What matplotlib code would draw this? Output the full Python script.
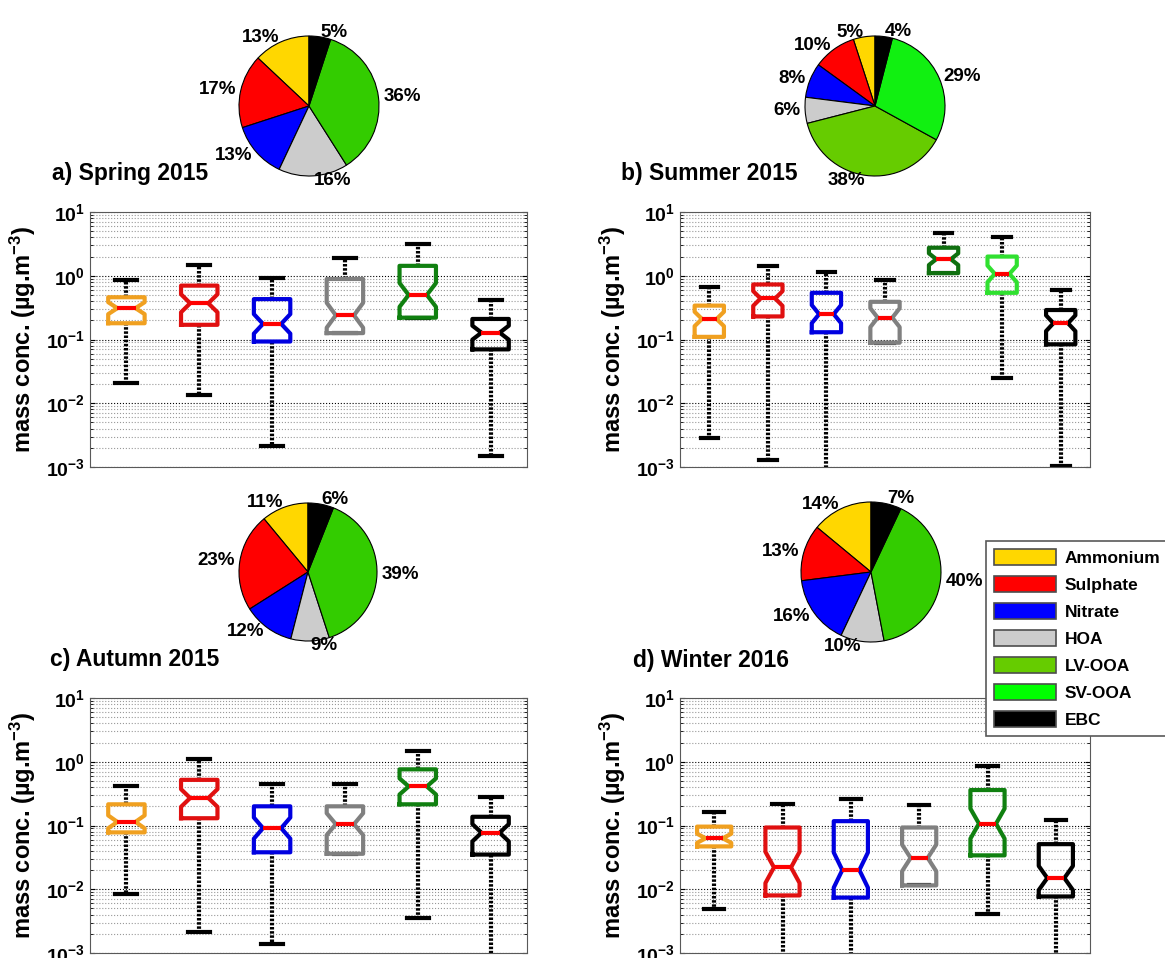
import numpy as np
import matplotlib
matplotlib.use('Agg')
import matplotlib.pyplot as plt
from matplotlib.patches import Patch

plt.rcParams['font.family'] = ['Liberation Sans', 'DejaVu Sans']
plt.rcParams['font.weight'] = 'bold'
plt.rcParams['mathtext.fontset'] = 'custom'
plt.rcParams['mathtext.rm'] = 'Liberation Sans:bold'
plt.rcParams['mathtext.it'] = 'Liberation Sans:bold'
plt.rcParams['mathtext.bf'] = 'Liberation Sans:bold'

# legend / species
species = ['Ammonium', 'Sulphate', 'Nitrate', 'HOA', 'LV-OOA', 'SV-OOA', 'EBC']
legend_colors = ['#FFD700', '#FF0000', '#0000FF', '#CCCCCC', '#66CC00', '#00FF00', '#000000']

# pie fractions (%) - counter clockwise from top
spring_pie = [13, 17, 13, 16, 36, 5]
summer_pie = [5, 10, 8, 6, 38, 29, 4]
autumn_pie = [11, 23, 12, 9, 39, 6]
winter_pie = [14, 13, 16, 10, 40, 7]
pie_colors_6 = ['#FFD700', '#FF0000', '#0000FF', '#CCCCCC', '#33CC00', '#000000']
pie_colors_7 = ['#FFD700', '#FF0000', '#0000FF', '#CCCCCC', '#66CC00', '#11F011', '#000000']

# box plot stats (ug/m3): lower whisker, q1, median, q3, upper whisker
spring_lo = [0.021, 0.0135, 0.0021, 0.126, 0.22, 0.0015]
spring_q1 = [0.18, 0.17, 0.093, 0.126, 0.22, 0.070]
spring_med = [0.31, 0.37, 0.176, 0.24, 0.50, 0.128]
spring_q3 = [0.46, 0.70, 0.43, 0.89, 1.43, 0.21]
spring_hi = [0.86, 1.48, 0.91, 1.93, 3.2, 0.42]

summer_lo = [0.0029, 0.0013, 0.0008, 0.089, 1.10, 0.025, 0.00105]
summer_q1 = [0.11, 0.23, 0.13, 0.089, 1.10, 0.54, 0.084]
summer_med = [0.21, 0.44, 0.25, 0.22, 1.82, 1.07, 0.18]
summer_q3 = [0.34, 0.73, 0.54, 0.39, 2.75, 2.0, 0.29]
summer_hi = [0.66, 1.44, 1.14, 0.85, 4.6, 4.1, 0.60]

autumn_lo = [0.0083, 0.0021, 0.0014, 0.036, 0.0036, 0.0008]
autumn_q1 = [0.078, 0.13, 0.038, 0.036, 0.215, 0.035]
autumn_med = [0.114, 0.27, 0.091, 0.105, 0.41, 0.077]
autumn_q3 = [0.215, 0.52, 0.20, 0.20, 0.76, 0.137]
autumn_hi = [0.41, 1.09, 0.45, 0.45, 1.47, 0.28]

winter_lo = [0.0049, 0.0008, 0.0008, 0.0115, 0.0041, 0.0008]
winter_q1 = [0.047, 0.0080, 0.0074, 0.0115, 0.034, 0.0077]
winter_med = [0.063, 0.022, 0.020, 0.031, 0.107, 0.015]
winter_q3 = [0.096, 0.093, 0.117, 0.093, 0.36, 0.051]
winter_hi = [0.165, 0.22, 0.26, 0.21, 0.87, 0.12]

box_colors_6 = ['#F0A020', '#E01010', '#0000E0', '#808080', '#108010', '#000000']
box_colors_7 = ['#F0A020', '#E01010', '#0000E0', '#808080', '#107010', '#30E030', '#000000']

W, H = 1165, 958
fig = plt.figure(figsize=(W / 100, H / 100), dpi=100)


def px_rect(left, top, right, bottom):
    return [left / W, 1 - bottom / H, (right - left) / W, (bottom - top) / H]


def box_stats(lo, q1, med, q3, hi):
    stats = []
    for a, b, c, d, e in zip(lo, q1, med, q3, hi):
        half = 0.23 * np.log10(d / b)
        stats.append(dict(whislo=a, q1=b, med=c, q3=d, whishi=e,
                          cilo=c / 10 ** half, cihi=c * 10 ** half, fliers=[]))
    return stats


def draw_box(rect, stats, colors):
    ax = fig.add_axes(rect)
    n = len(stats)
    res = ax.bxp(stats, positions=range(1, n + 1), widths=0.5, capwidths=0.3,
                 shownotches=True, showfliers=False, manage_ticks=False,
                 boxprops=dict(lw=3),
                 medianprops=dict(color='red', lw=3),
                 whiskerprops=dict(color='k', ls=(0, (0.6, 0.4)), lw=3),
                 capprops=dict(color='k', lw=3))
    for box, c in zip(res['boxes'], colors):
        box.set_color(c)
        box.set_zorder(3)
    for m in res['medians']:
        m.set_zorder(4)
    ax.set_yscale('log')
    ax.set_ylim(1e-3, 1e1)
    ax.set_xlim(0.5, n + 0.5)
    ax.set_xticks([])
    ax.set_yticks([1e-3, 1e-2, 1e-1, 1e0, 1e1])
    ax.set_yticklabels([r'$10^{-3}$', r'$10^{-2}$', r'$10^{-1}$', r'$10^{0}$', r'$10^{1}$'],
                       fontsize=14)
    ax.tick_params(axis='y', which='both', direction='in', right=True)
    ax.yaxis.grid(True, which='major', ls=':', color='k', lw=0.8)
    ax.yaxis.grid(True, which='minor', ls=':', color='0.6', lw=0.8)
    for s in ax.spines.values():
        s.set_color('0.35')
        s.set_linewidth(0.8)
    ax.set_ylabel(r'mass conc. (µg.m$^{-3}$)', fontsize=17, fontweight='bold', labelpad=6)
    return ax


def draw_pie(cx, cy, r, values, colors):
    size = 2 * r * 1.25
    ax = fig.add_axes(px_rect(cx - size / 2, cy - size / 2, cx + size / 2, cy + size / 2))
    ax.pie(values, colors=colors, labels=[f'{v}%' for v in values], startangle=90,
           counterclock=True, labeldistance=1.07,
           wedgeprops=dict(edgecolor='k', linewidth=0.8),
           textprops=dict(fontsize=13.5, fontweight='bold'))
    ax.set_xlim(-1.25, 1.25)
    ax.set_ylim(-1.25, 1.25)


# panels
draw_box(px_rect(90, 212, 527, 467),
         box_stats(spring_lo, spring_q1, spring_med, spring_q3, spring_hi), box_colors_6)
draw_box(px_rect(680, 212, 1090, 467),
         box_stats(summer_lo, summer_q1, summer_med, summer_q3, summer_hi), box_colors_7)
draw_box(px_rect(90, 698, 527, 953),
         box_stats(autumn_lo, autumn_q1, autumn_med, autumn_q3, autumn_hi), box_colors_6)
draw_box(px_rect(680, 698, 1090, 953),
         box_stats(winter_lo, winter_q1, winter_med, winter_q3, winter_hi), box_colors_6)

draw_pie(309, 106, 70, spring_pie, pie_colors_6)
draw_pie(875, 106, 70, summer_pie, pie_colors_7)
draw_pie(308, 572, 69, autumn_pie, pie_colors_6)
draw_pie(871, 572, 70, winter_pie, pie_colors_6)

fig.text(52 / W, 1 - 180 / H, 'a) Spring 2015', fontsize=16.5, fontweight='bold', va='baseline')
fig.text(621 / W, 1 - 180 / H, 'b) Summer 2015', fontsize=16.5, fontweight='bold', va='baseline')
fig.text(50 / W, 1 - 666 / H, 'c) Autumn 2015', fontsize=16.5, fontweight='bold', va='baseline')
fig.text(633 / W, 1 - 667 / H, 'd) Winter 2016', fontsize=16.5, fontweight='bold', va='baseline')

handles = [Patch(facecolor=c, edgecolor='0.3', linewidth=1.2) for c in legend_colors]
leg = fig.legend(handles, species, loc='upper left', bbox_to_anchor=(986 / W, 1 - 541 / H),
                 frameon=True, fancybox=False, edgecolor='0.35', framealpha=1,
                 prop=dict(size=12.5, weight='bold'), handlelength=3.6, handleheight=1.1,
                 labelspacing=0.56, borderpad=0.45, handletextpad=0.5, borderaxespad=0)
leg.get_frame().set_linewidth(1.2)

fig.savefig('out.png', dpi=100)
